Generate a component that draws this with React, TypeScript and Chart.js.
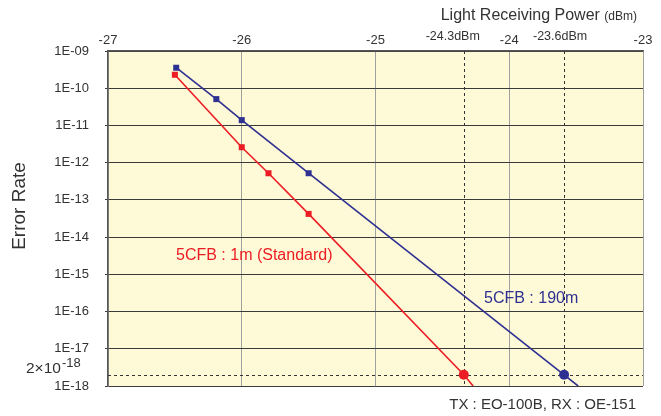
import React, { useEffect, useRef } from "react";
import { Chart, registerables } from "chart.js";

Chart.register(...registerables);

// Light receiving power (dBm) and error rate values
const redX = [-26.5, -26.0, -25.8, -25.5, -24.34, -24.27];
const redY = [2.3e-10, 2.6e-12, 5.2e-13, 4.2e-14, 2e-18, 1e-18];
const redRadius = [4.25, 4.25, 4.25, 4.25, 5, 0];
const redStyle = ["rect", "rect", "rect", "rect", "circle", "circle"];

const blueX = [-26.49, -26.19, -26.0, -25.5, -23.59, -23.485];
const blueY = [3.55e-10, 5.1e-11, 1.39e-11, 5.2e-13, 2e-18, 1e-18];
const blueRadius = [4.25, 4.25, 4.25, 4.25, 5, 0];
const blueStyle = ["rect", "rect", "rect", "rect", "circle", "circle"];

const yTicks = [1e-18, 1e-17, 1e-16, 1e-15, 1e-14, 1e-13, 1e-12, 1e-11, 1e-10, 1e-9];
const markerX = [-24.34, -23.59];
const markerLabels = ["-24.3dBm", "-23.6dBm"];
const thresholdY = 2e-18;

const redLabel = "5CFB : 1m (Standard)";
const blueLabel = "5CFB : 190m";
const xTitle = "Light Receiving Power";
const xTitleUnit = "(dBm)";
const yTitle = "Error Rate";
const footNote = "TX : EO-100B, RX : OE-151";

const RED = "#ec1c24";
const BLUE = "#2e3192";
const TEXT = "#333333";
const FONT = "'Liberation Sans', Arial, sans-serif";

export default function App() {
  const ref = useRef<HTMLCanvasElement | null>(null);

  useEffect(() => {
    if (!ref.current) return;
    const bgPlugin = {
      id: "bg",
      beforeDraw(chart: any) {
        const { ctx, chartArea } = chart;
        ctx.save();
        ctx.fillStyle = "#fef9d6";
        ctx.fillRect(chartArea.left, chartArea.top, chartArea.right - chartArea.left, chartArea.bottom - chartArea.top);
        ctx.restore();
      },
      beforeDatasetsDraw(chart: any) {
        const { ctx, chartArea, scales } = chart;
        const xs = scales.x;
        const ys = scales.y;
        ctx.save();
        ctx.strokeStyle = "#333";
        ctx.lineWidth = 1;
        ctx.setLineDash([3, 3]);
        const ty = Math.round(ys.getPixelForValue(thresholdY)) + 0.5;
        ctx.beginPath();
        ctx.moveTo(chartArea.left, ty);
        ctx.lineTo(chartArea.right, ty);
        ctx.stroke();
        markerX.forEach((v) => {
          const px = Math.round(xs.getPixelForValue(v)) + 0.5;
          ctx.beginPath();
          ctx.moveTo(px, chartArea.top);
          ctx.lineTo(px, chartArea.bottom);
          ctx.stroke();
        });
        ctx.restore();
      },
      afterDraw(chart: any) {
        const { ctx, scales } = chart;
        const xs = scales.x;
        const ys = scales.y;
        ctx.save();
        ctx.fillStyle = TEXT;
        ctx.textBaseline = "middle";
        // marker labels
        ctx.font = `12.5px ${FONT}`;
        ctx.textAlign = "center";
        markerX.forEach((v, i) => {
          const px = xs.getPixelForValue(v);
          ctx.fillText(markerLabels[i], px - 11 + (i === 1 ? 7 : 0), 37);
        });
        // x title
        ctx.textAlign = "right";
        ctx.font = `12px ${FONT}`;
        const uw = ctx.measureText(xTitleUnit).width;
        ctx.fillText(xTitleUnit, 637, 17);
        ctx.font = `16px ${FONT}`;
        ctx.fillText(xTitle + " ", 637 - uw, 16);
        // y title
        ctx.save();
        ctx.translate(20, 206);
        ctx.rotate(-Math.PI / 2);
        ctx.textAlign = "center";
        ctx.font = `19px ${FONT}`;
        ctx.fillText(yTitle, 0, 0);
        ctx.restore();
        // threshold label 2x10^-18
        const ty = ys.getPixelForValue(thresholdY);
        ctx.textAlign = "left";
        ctx.font = `15.5px ${FONT}`;
        ctx.fillText("2×10", 26, ty - 6);
        const bw = ctx.measureText("2×10").width;
        ctx.font = `13px ${FONT}`;
        ctx.fillText("-18", 26 + bw + 1, ty - 11);
        // series labels
        ctx.font = `16px ${FONT}`;
        ctx.fillStyle = RED;
        ctx.fillText(redLabel, 176, 256);
        ctx.fillStyle = BLUE;
        ctx.fillText(blueLabel, 484, 299);
        // footnote
        ctx.fillStyle = TEXT;
        ctx.textAlign = "right";
        ctx.font = `15px ${FONT}`;
        ctx.fillText(footNote, 636, 405);
        ctx.restore();
      },
    };

    const chart = new Chart(ref.current, {
      type: "scatter",
      data: {
        datasets: [
          {
            label: "red",
            data: redX.map((x, i) => ({ x, y: redY[i] })),
            showLine: true,
            borderColor: RED,
            backgroundColor: RED,
            borderWidth: 1.6,
            pointRadius: redRadius,
            pointStyle: redStyle as any,
            pointBorderWidth: 0,
          },
          {
            label: "blue",
            data: blueX.map((x, i) => ({ x, y: blueY[i] })),
            showLine: true,
            borderColor: BLUE,
            backgroundColor: BLUE,
            borderWidth: 1.6,
            pointRadius: blueRadius,
            pointStyle: blueStyle as any,
            pointBorderWidth: 0,
          },
        ],
      },
      options: {
        responsive: false,
        animation: false,
        layout: { padding: { left: 0, right: 18, top: 0, bottom: 30 } },
        plugins: { legend: { display: false }, tooltip: { enabled: false } },
        scales: {
          x: {
            type: "linear",
            position: "top",
            min: -27,
            max: -23,
            ticks: { stepSize: 1, color: TEXT, font: { size: 13, family: FONT }, padding: 3, maxRotation: 0 },
            grid: { color: "#a0a0a0", lineWidth: 1, drawTicks: false },
            border: { color: "#555", width: 1.5 },
            afterFit(scale: any) {
              scale.height = 51;
            },
          },
          y: {
            type: "logarithmic",
            min: 1e-18,
            max: 1e-9,
            afterBuildTicks(scale: any) {
              scale.ticks = yTicks.map((v) => ({ value: v }));
            },
            ticks: {
              color: TEXT,
              font: { size: 13, family: FONT },
              padding: 16,
              callback: (v: any) => {
                const e = Math.round(Math.log10(Number(v)));
                return `1E-${String(-e).padStart(2, "0")}`;
              },
            },
            grid: { color: "#3a3a3a", lineWidth: 1, tickLength: 3 },
            border: { color: "#555", width: 1.5 },
            afterFit(scale: any) {
              scale.width = 108;
            },
          },
        },
      },
      plugins: [bgPlugin],
    });
    return () => chart.destroy();
  }, []);

  return (
    <div style={{ position: "fixed", left: 0, top: 0, width: 661, height: 416, background: "#fff" }}>
      <canvas ref={ref} width={661} height={416} />
    </div>
  );
}
